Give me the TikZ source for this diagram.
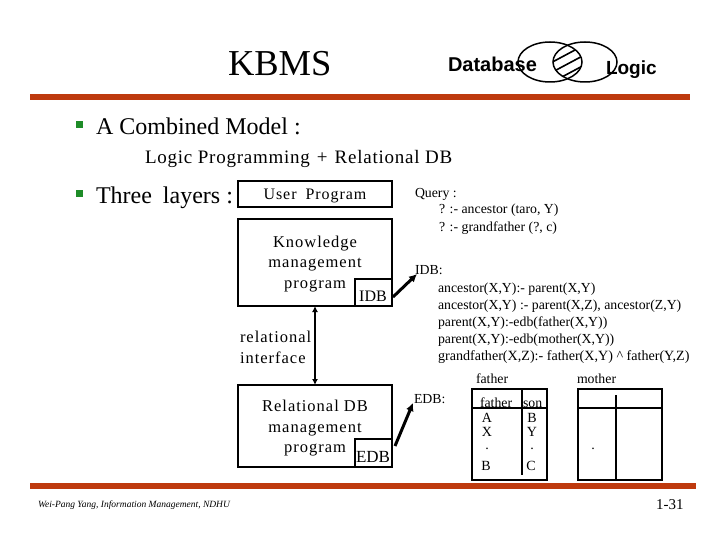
\documentclass[tikz,border=0pt]{standalone}
\usepackage{fontspec}
\setmainfont{Liberation Serif}
\newfontfamily\hsans{Liberation Sans}
\newfontfamily\spaced[LetterSpace=6]{Liberation Serif}
\newfontfamily\spacedb[LetterSpace=4]{Liberation Serif}
\usetikzlibrary{arrows.meta}
\definecolor{barred}{RGB}{190,58,14}
\definecolor{bulgreen}{RGB}{30,140,40}
\tikzset{
  x=1pt,y=-1pt,
  txt/.style={anchor=base west,inner sep=0pt,outer sep=0pt,font=\fontsize{#1}{#1}\selectfont},
  txt/.default=14,
  ctr/.style={anchor=base,inner sep=0pt,outer sep=0pt,align=center,font=\spaced\fontsize{16.5}{20.5}\selectfont},
  boxa/.style={draw=black,line width=2pt,inner sep=0pt,outer sep=0pt},
  bullet/.style={fill=bulgreen,draw=none,inner sep=0pt,outer sep=0pt,minimum size=7pt},
  bar/.style={fill=barred,draw=none},
  rule/.style={line width=1.8pt,draw=black},
  thick arrow/.style={line width=3pt,-{Latex[length=8pt,width=8pt]}},
}
\begin{document}
\begin{tikzpicture}
\useasboundingbox (0,0) rectangle (720,540);
\fill[white] (0,0) rectangle (720,540);
% bars
\fill[bar] (30,94) rectangle (690,100);
\fill[bar] (30,483) rectangle (696,489);
% title
\node[txt=36.5] (title) at (228,76) {KBMS};
\node[txt=20,font=\fontsize{20}{20}\selectfont\hsans\bfseries] (db) at (448,72) {Database};
\node[txt=19,font=\fontsize{19}{19}\selectfont\hsans\bfseries] (lg) at (606,75) {Logic};
% venn
\begin{scope}
\clip (550,62) ellipse [x radius=32,y radius=20];
\clip (585,62) ellipse [x radius=32,y radius=20];
\foreach \d in {-16,-6,4,14} \draw[line width=1.6pt] (545,62+\d+10) -- (590,62+\d-14);
\end{scope}
\draw[line width=1.5pt] (550,62) ellipse [x radius=32,y radius=20];
\draw[line width=1.5pt] (585,62) ellipse [x radius=32,y radius=20];
% left text
\node[bullet] (b1) at (79,125) {};
\node[txt=24] (combined) at (96,135) {A Combined Model :};
\node[txt=19] (lp) at (145,164) {\spacedb Logic Programming\hspace{7pt}+\hspace{7pt}Relational DB};
\node[bullet] (b2) at (79,194) {};
\node[txt=24] (three) at (96,204) {Three\hspace{5pt} layers :};
% boxes
\node[boxa,minimum width=154pt,minimum height=26pt] (user) at (315,194) {};
\node[txt=16,anchor=base] (usert) at (315,200) {\spaced User\hspace{4pt} Program};
\node[boxa,minimum width=154pt,minimum height=87pt] (kn) at (315,262.5) {};
\node[ctr,anchor=north] (knt) at (315,236) {Knowledge\\management\\program};
\node[boxa,minimum width=37pt,minimum height=27pt] (idb) at (373.5,292.5) {};
\node[txt=16,anchor=base] (idbt) at (373,301) {IDB};
\node[ctr,align=left,anchor=north west] (ri) at (240,331.5) {relational\\interface};
\node[boxa,minimum width=154pt,minimum height=82pt] (rel) at (315,426) {};
\node[ctr,anchor=north] (relt) at (315,400.5) {Relational DB\\management\\program};
\node[boxa,minimum width=37pt,minimum height=28pt] (edb) at (373.5,453) {};
\node[txt=17,anchor=base] (edbt) at (373,462) {EDB};
% right text
\node[txt=13.8] (q) at (415,197) {Query :};
\node[txt=13.8] (q1) at (439,214) {? :- ancestor (taro, Y)};
\node[txt=13.8] (q2) at (439,231) {? :- grandfather (?, c)};
\node[txt=13.8] (idbl) at (415,274) {IDB:};
\node[txt=13.8] (r1) at (438,292) {ancestor(X,Y):- parent(X,Y)};
\node[txt=13.8] (r2) at (438,309) {ancestor(X,Y) :- parent(X,Z), ancestor(Z,Y)};
\node[txt=13.8] (r3) at (438,326) {parent(X,Y):-edb(father(X,Y))};
\node[txt=13.8] (r4) at (438,343) {parent(X,Y):-edb(mother(X,Y))};
\node[txt=14.1] (r5) at (438,360) {grandfather(X,Z):- father(X,Y) \^{} father(Y,Z)};
\node[txt=13.8] (fl) at (476,383) {father};
\node[txt=13.8] (ml) at (577,383) {mother};
\node[txt=13.8] (el) at (414,403) {EDB:};
% tables
\node[boxa,minimum width=75pt,minimum height=91pt] (t1) at (509.5,434.5) {};
\node[boxa,minimum width=84pt,minimum height=91pt] (t2) at (620,434.5) {};
\coordinate (t1l) at (473,408); \coordinate (t1r) at (548,408);
\coordinate (t1t) at (522,389); \coordinate (t1b) at (522,475);
\coordinate (t2l) at (578,408); \coordinate (t2r) at (662,408);
\coordinate (t2t) at (616,395); \coordinate (t2b) at (616,480);
\node[txt=13.8] (f) at (480,407) {father};
\node[txt=13.8] (s) at (523,407) {son};
\draw[rule] (t1l) -- (t1r);
\draw[rule] (t1t) -- (t1b);
\draw[rule] (t2l) -- (t2r);
\draw[rule] (t2t) -- (t2b);
\node[txt=14,anchor=base] at (487,422) {A};
\node[txt=14,anchor=base] at (532,422) {B};
\node[txt=14,anchor=base] at (487,436) {X};
\node[txt=14,anchor=base] at (532,436) {Y};
\node[txt=14,anchor=base] at (487,449) {.};
\node[txt=14,anchor=base] at (532,449) {.};
\node[txt=14,anchor=base] at (593,449) {.};
\node[txt=14,anchor=base] at (486,470) {B};
\node[txt=14,anchor=base] at (531,470) {C};
% connectors
\coordinate (ia) at (393,297); \coordinate (ib) at (417,274);
\draw[thick arrow] (ia) -- (ib);
\coordinate (ea) at (395,446); \coordinate (eb) at (413,403);
\draw[thick arrow] (ea) -- (eb);
\draw[line width=1.8pt,{Latex[length=6pt,width=6pt]}-{Latex[length=6pt,width=6pt]}] (kn.south) -- (rel.north);
% footer
\node[txt=9.5,font=\fontsize{9.5}{9.5}\selectfont\itshape] (foot) at (38,507) {Wei-Pang Yang, Information Management, NDHU};
\node[txt=15] (pg) at (656,509) {1-31};
\end{tikzpicture}
\end{document}
